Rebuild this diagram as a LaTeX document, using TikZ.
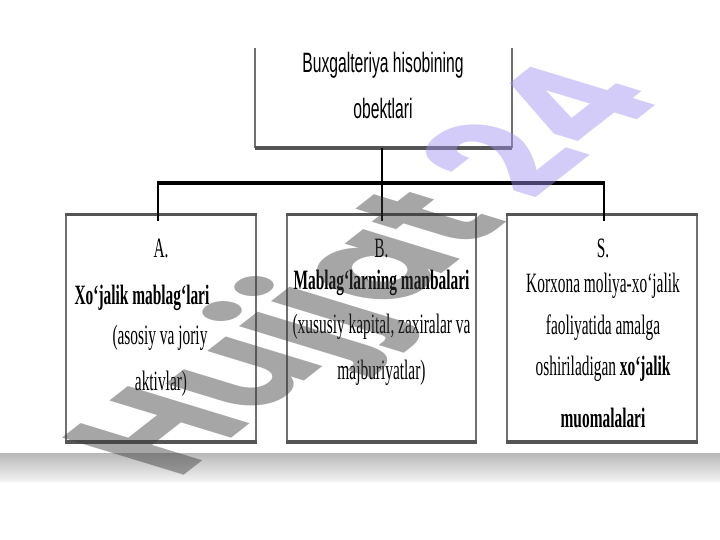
\documentclass[tikz,border=0pt]{standalone}
\usepackage{fontspec}
\setmainfont{Liberation Serif}
\newfontfamily\cserif[FakeStretch=0.55]{Liberation Serif}
\newfontfamily\csans[FakeStretch=0.56]{Liberation Sans}
\newfontfamily\wmfont{Poppins}
\definecolor{edgeside}{HTML}{707070}
\definecolor{edgebar}{HTML}{555555}
\definecolor{wmgray}{HTML}{3A3A3A}
\definecolor{wmpurple}{HTML}{A090F0}
\definecolor{bandtop}{HTML}{B8B8B8}
\definecolor{bandbot}{HTML}{F2F2F2}
\begin{document}
\begin{tikzpicture}[x=1pt,y=1pt,
  boxnode/.style={draw=edgeside, line width=1.5pt, inner sep=0pt, minimum height=226pt},
  topbar/.style={draw=edgebar, line width=2.8pt},
  botbar/.style={draw=edgebar, line width=3.6pt},
  sideline/.style={draw=edgeside, line width=1.5pt},
  hconn/.style={draw=black, line width=3.5pt},
  vconn/.style={draw=black, line width=2.5pt},
  txt/.style={anchor=base, inner sep=0pt, font=\cserif\fontsize{28}{28}\selectfont},
  toptxt/.style={anchor=base, inner sep=0pt, font=\csans\fontsize{28}{28}\selectfont}]
\useasboundingbox (0,0) rectangle (720,-540);
\fill[white] (0,0) rectangle (720,-540);

% bottom band
\shade[top color=bandtop, bottom color=bandbot] (0,-453) rectangle (720,-481);

% top box (top edge cut off)
\node[inner sep=0pt, minimum width=257pt, minimum height=108pt] (tb) at (383.5,-94) {};
\draw[sideline] ([yshift=-8pt]tb.north west) -- (tb.south west);
\draw[sideline] ([yshift=-8pt]tb.north east) -- (tb.south east);
\draw[botbar] (tb.south west) -- (tb.south east);
\node[toptxt] (t1) at (383,-73) {Buxgalteriya hisobining};
\node[toptxt] (t2) at (383,-119) {obektlari};

% three boxes
\node[boxnode, minimum width=190pt] (A) at (161,-328) {};
\node[boxnode, minimum width=189pt] (B) at (381.5,-328) {};
\node[boxnode, minimum width=190pt] (S) at (602,-328) {};
\foreach \b in {A,B,S}{
  \draw[topbar] (\b.north west) -- (\b.north east);
  \draw[botbar] (\b.south west) -- (\b.south east);
}

% connectors
\coordinate (hA) at (158,-183);
\coordinate (hS) at (604,-183);
\coordinate (hB) at (382,-183);
\path (hA |- A.north) ++(0,-7) coordinate (dA);
\path (hB |- B.north) ++(0,-7) coordinate (dB);
\path (hS |- S.north) ++(0,-7) coordinate (dS);
\draw[vconn] (tb.south -| hB) -- (hB);
\draw[hconn] ([xshift=-1.25pt]hA) -- ([xshift=1.25pt]hS);
\draw[vconn] (hA) -- (dA);
\draw[vconn] (hB) -- (dB);
\draw[vconn] (hS) -- (dS);

% box A text
\node[txt] (a1) at (161,-257) {A.};
\node[txt] (a2) at (142,-304) {\bfseries Xo‘jalik mablag‘lari};
\node[txt] (a3) at (160,-344) {(asosiy va joriy};
\node[txt] (a4) at (161,-390) {aktivlar)};

% box B text
\node[txt] (b1) at (381.5,-257) {B.};
\node[txt] (b2) at (381.5,-289) {\bfseries Mablag‘larning manbalari};
\node[txt] (b3) at (381.5,-333) {(xususiy kapital, zaxiralar va};
\node[txt] (b4) at (381.5,-379) {majburiyatlar)};

% box S text
\node[txt] (s1) at (603,-257) {S.};
\node[txt] (s2) at (603,-292) {Korxona moliya-xo‘jalik};
\node[txt] (s3) at (603,-334) {faoliyatida amalga};
\node[txt] (s4) at (603,-375) {oshiriladigan \textbf{xo‘jalik}};
\node[txt] (s5) at (603,-427) {\bfseries muomalalari};

% watermark
\begin{scope}[shift={(423,-288)}, xscale=2.045]
\node[anchor=base, rotate=58, transform shape, inner sep=0pt,
      font=\wmfont\bfseries\fontsize{100}{100}\selectfont, text opacity=0.45]
      (wm) at (0,0) {\textcolor{wmgray}{Hujjat} \textcolor{wmpurple}{24}};
\end{scope}
\end{tikzpicture}
\end{document}
